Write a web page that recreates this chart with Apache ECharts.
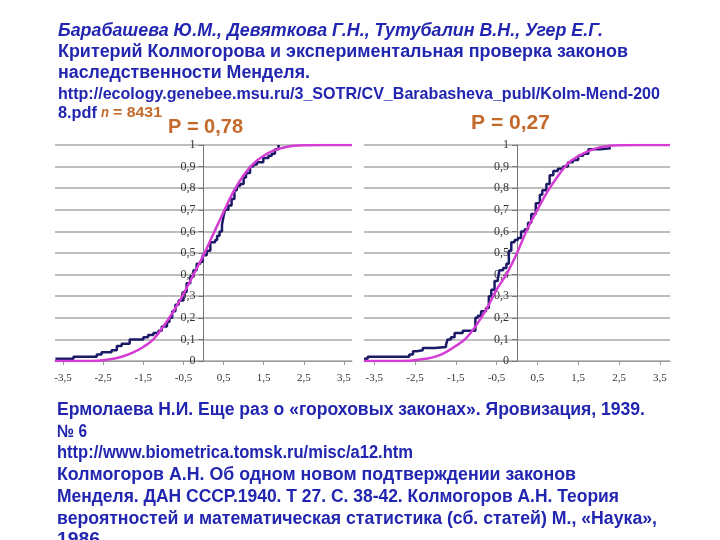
<!DOCTYPE html>
<html><head><meta charset="utf-8">
<script src="https://cdn.jsdelivr.net/npm/echarts@6/dist/echarts.min.js"></script>
<style>html,body{margin:0;padding:0;background:#fff}#c{width:720px;height:540px}</style>
</head><body><div id="c"></div>
<script>
// ---- data ----
const xTickValues = [-3.5, -2.5, -1.5, -0.5, 0.5, 1.5, 2.5, 3.5];
const leftTitle = 'P = 0,78';
const rightTitle = 'P = 0,27';

const leftEcdfX = [-3.69,-3.24,-2.66,-2.54,-2.29,-2.16,-2.04,-1.84,-1.50,-1.38,-1.25,-1.12,-1.04,-0.91,-0.85,-0.78,-0.70,-0.62,-0.50,-0.42,-0.33,-0.25,-0.17,-0.08,-0.02,0.08,0.17,0.29,0.34,0.40,0.46,0.50,0.54,0.62,0.70,0.77,0.83,0.91,1.00,1.06,1.16,1.24,1.33,1.49,1.62,1.70,1.78,1.87];
const leftEcdfY = [0.01,0.02,0.03,0.04,0.05,0.07,0.08,0.10,0.11,0.12,0.13,0.14,0.16,0.18,0.20,0.23,0.26,0.28,0.32,0.36,0.39,0.42,0.45,0.46,0.49,0.51,0.55,0.56,0.58,0.60,0.63,0.67,0.70,0.72,0.75,0.79,0.81,0.82,0.85,0.87,0.90,0.91,0.92,0.94,0.95,0.96,0.98,1.00];

const leftCdfX = [-3.7,-3.0,-2.5,-2.25,-2.0,-1.75,-1.5,-1.25,-1.0,-0.75,-0.5,-0.25,0,0.25,0.5,0.75,1.0,1.25,1.5,1.75,2.0,2.25,2.5,3.0,3.7];
const leftCdfY = [0,0,0.004,0.01,0.022,0.04,0.065,0.10,0.16,0.23,0.31,0.40,0.49,0.59,0.69,0.785,0.86,0.915,0.95,0.975,0.988,0.996,0.999,1,1];

const rightEcdfX = [-3.75,-3.66,-2.64,-2.55,-2.46,-2.31,-2.02,-1.74,-1.70,-1.62,-1.53,-1.33,-1.02,-0.96,-0.88,-0.76,-0.69,-0.63,-0.55,-0.47,-0.43,-0.34,-0.26,-0.20,-0.14,-0.06,0.02,0.10,0.19,0.27,0.35,0.46,0.56,0.62,0.72,0.80,0.89,1.00,1.13,1.25,1.37,1.50,1.62,1.75,2.03,2.30];
const rightEcdfY = [0.01,0.02,0.03,0.045,0.05,0.06,0.065,0.075,0.10,0.11,0.13,0.14,0.20,0.21,0.23,0.245,0.30,0.33,0.37,0.38,0.42,0.43,0.45,0.51,0.55,0.56,0.57,0.60,0.61,0.64,0.68,0.73,0.77,0.79,0.82,0.86,0.88,0.89,0.90,0.92,0.93,0.95,0.96,0.98,0.985,0.985];

const rightCdfX = [-3.75,-3.0,-2.5,-2.25,-2.0,-1.75,-1.5,-1.25,-1.0,-0.75,-0.5,-0.25,0,0.25,0.5,0.75,1.0,1.25,1.5,1.75,2.0,2.25,2.5,3.0,3.75];
const rightCdfY = [0,0,0.004,0.01,0.02,0.04,0.07,0.105,0.165,0.24,0.33,0.405,0.50,0.61,0.70,0.785,0.855,0.915,0.948,0.972,0.988,0.996,0.999,1,1];

const topLines = [
  'Барабашева Ю.М., Девяткова Г.Н., Тутубалин В.Н., Угер Е.Г.',
  'Критерий Колмогорова и экспериментальная проверка законов',
  'наследственности Менделя.',
  'http://ecology.genebee.msu.ru/3_SOTR/CV_Barabasheva_publ/Kolm-Mend-200',
  '8.pdf'
];
const nLetter = 'n';
const nValue = '= 8431';
const bottomLines = [
  'Ермолаева Н.И. Еще раз о «гороховых законах». Яровизация, 1939.',
  '№ 6',
  'http://www.biometrica.tomsk.ru/misc/a12.htm',
  'Колмогоров А.Н. Об одном новом подтверждении законов',
  'Менделя. ДАН СССР.1940. Т 27. С. 38-42. Колмогоров А.Н. Теория',
  'вероятностей и математическая статистика (сб. статей) М., «Наука»,',
  '1986'
];

// ---- layout ----
const zip = (a, b) => a.map((v, i) => [v, b[i]]);
const BLUE = '#2125b0', ORANGE = '#c4692a', NAVY = '#1c1a66', MAG = '#d43cd4';
const SANS = '"Liberation Sans", Arial, sans-serif';
const SERIF = '"Liberation Serif", "Times New Roman", serif';

const cv = document.createElement('canvas').getContext('2d');
function fitText(text, x, y, font, width, fill) {
  cv.font = font;
  const w = cv.measureText(text).width;
  return { type: 'text', x: x, y: y, scaleX: width / w, z: 10,
    style: { text: text, font: font, fill: fill, verticalAlign: 'middle', align: 'left' } };
}

const topPos = [[31, 545, 'italic bold 18px'], [52, 570, 'bold 18px'], [73, 252, 'bold 18px'], [94, 602, 'bold 17px'], [113, 39, 'bold 17px']];
const botPos = [[410, 588], [432, 30], [453, 356], [475, 519], [497, 562], [519, 600], [540, 43]];
const graphics = [];
topLines.forEach((t, i) => graphics.push(fitText(t, 58, topPos[i][0], topPos[i][2] + ' ' + SANS, topPos[i][1], BLUE)));
graphics.push(fitText(nLetter, 101, 113, 'italic bold 14px ' + SANS, 8, ORANGE));
graphics.push(fitText(nValue, 113, 113, 'bold 14px ' + SANS, 49, ORANGE));
bottomLines.forEach((t, i) => graphics.push(fitText(t, 57, botPos[i][0], 'bold 18px ' + SANS, botPos[i][1], BLUE)));
graphics.push(fitText(leftTitle, 168, 127, 'bold 21px ' + SANS, 75, ORANGE));
graphics.push(fitText(rightTitle, 471, 123, 'bold 21px ' + SANS, 79, ORANGE));

const fmtX = v => String(v).replace('.', ',');
const fmtY = v => (v === 0 ? '0' : v === 1 ? '1' : v.toFixed(1).replace('.', ','));

function xAx(i, lim) {
  return { gridIndex: i, type: 'value', min: -lim, max: lim,
    axisLine: { onZero: false, lineStyle: { color: '#9a9a9a', width: 1 } },
    axisTick: { show: true, customValues: xTickValues, length: 4, lineStyle: { color: '#9a9a9a' } },
    axisLabel: { customValues: xTickValues, formatter: fmtX, fontFamily: SERIF, fontSize: 11, color: '#333', margin: 12 },
    splitLine: { show: false } };
}
// y axis sits at x = 0: shift it inward from the grid's left edge by half the grid width
function yAx(i, halfWidth) {
  return { gridIndex: i, type: 'value', min: 0, max: 1, interval: 0.1, offset: -halfWidth,
    axisLine: { show: true, onZero: false, lineStyle: { color: '#777', width: 1 } },
    axisTick: { show: true, length: 5, lineStyle: { color: '#777' } },
    axisLabel: { formatter: fmtY, fontFamily: SERIF, fontSize: 12, color: '#333', margin: 8 },
    splitLine: { show: true, lineStyle: { color: '#a8a8a8', width: 1.5 } } };
}

const chart = echarts.init(document.getElementById('c'));
chart.setOption({
  animation: false,
  backgroundColor: '#fff',
  grid: [
    { left: 55, top: 145, width: 297, height: 216 },
    { left: 364, top: 145, width: 306, height: 216 }
  ],
  xAxis: [xAx(0, 3.7), xAx(1, 3.75)],
  yAxis: [yAx(0, 148.5), yAx(1, 153)],
  series: [
    { type: 'line', xAxisIndex: 0, yAxisIndex: 0, data: zip(leftEcdfX, leftEcdfY), step: 'end', showSymbol: false, lineStyle: { color: NAVY, width: 2.5 } },
    { type: 'line', xAxisIndex: 0, yAxisIndex: 0, data: zip(leftCdfX, leftCdfY), smooth: 0.4, showSymbol: false, lineStyle: { color: MAG, width: 2.5 } },
    { type: 'line', xAxisIndex: 1, yAxisIndex: 1, data: zip(rightEcdfX, rightEcdfY), step: 'end', showSymbol: false, lineStyle: { color: NAVY, width: 2.5 } },
    { type: 'line', xAxisIndex: 1, yAxisIndex: 1, data: zip(rightCdfX, rightCdfY), smooth: 0.4, showSymbol: false, lineStyle: { color: MAG, width: 2.5 } }
  ],
  graphic: graphics
});
</script>
</body></html>
